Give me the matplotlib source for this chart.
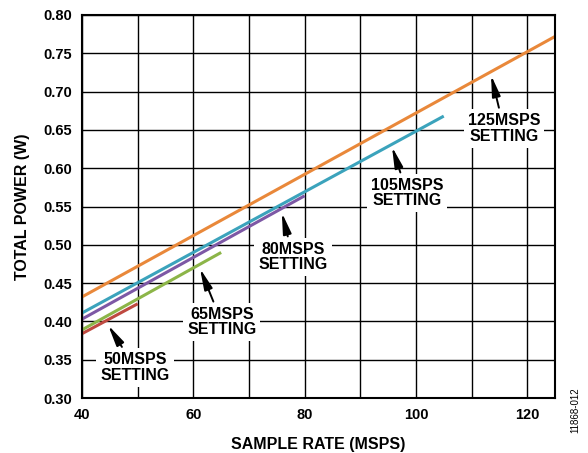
#!/usr/bin/python

# Total power vs sample rate for each speed setting

import numpy as np
import matplotlib
matplotlib.use("Agg")
import matplotlib.pyplot as plt

plt.rcParams['font.family'] = ['Liberation Sans', 'DejaVu Sans']

#################################
# data
#################################
settings = ["50MSPS", "65MSPS", "80MSPS", "105MSPS", "125MSPS"]
rate_start = [40, 40, 40, 40, 40]
rate_end = [50, 65, 80, 105, 125]
power_start = [0.384, 0.389, 0.403, 0.411, 0.432]
power_end = [0.423, 0.490, 0.564, 0.668, 0.772]
colours = ["#BF4A40", "#8CB548", "#7D58A5", "#3BA3BC", "#E9883A"]

# label position (text centre) and arrow tip, in data units
label_xy = [(49.5, 0.340), (65.1, 0.399), (77.9, 0.484), (98.4, 0.5675), (115.8, 0.652)]
arrow_tip = [(44.7, 0.395), (61.2, 0.469), (75.9, 0.542), (95.7, 0.628), (113.5, 0.7215)]

xticks = [40, 60, 80, 100, 120]
yticks = np.arange(0.30, 0.801, 0.05)

fsz_tick = 10.5
fsz_lab = 11.5

fig = plt.figure(figsize=(5.88, 4.53), dpi=100)
ax = fig.add_axes([0.1395, 0.1214, 0.8045, 0.8455])

# grid every 10 MSPS and every 0.05 W
for gx in range(40, 125, 10):
    ax.axvline(gx, color='black', lw=1.0, zorder=1)
for gy in yticks:
    ax.axhline(gy, color='black', lw=1.0, zorder=1)

for i in range(len(settings)):
    ax.plot([rate_start[i], rate_end[i]], [power_start[i], power_end[i]],
            color=colours[i], lw=2.2, solid_capstyle='butt', zorder=3)

for i in range(len(settings)):
    ax.annotate(settings[i] + "\nSETTING", xy=arrow_tip[i], xytext=label_xy[i],
                ha='center', va='center', fontsize=fsz_lab, fontweight='bold',
                linespacing=1.05,
                bbox=dict(boxstyle='square,pad=0.25', fc='white', ec='none'),
                arrowprops=dict(arrowstyle='-|>,head_length=1.1,head_width=0.22',
                                color='black', lw=1.4, shrinkA=1, shrinkB=0),
                zorder=4)

ax.set_xlim(40, 125)
ax.set_ylim(0.30, 0.80)
ax.set_xticks(xticks)
ax.set_yticks(yticks)
ax.set_yticklabels(["%.2f" % v for v in yticks])
ax.tick_params(length=0, labelsize=fsz_tick, pad=7)
for lab in ax.get_xticklabels() + ax.get_yticklabels():
    lab.set_fontweight('bold')
for sp in ax.spines.values():
    sp.set_linewidth(1.5)
    sp.set_zorder(5)

ax.set_xlabel("SAMPLE RATE (MSPS)", fontsize=fsz_lab, fontweight='bold', labelpad=11)
ax.set_ylabel("TOTAL POWER (W)", fontsize=fsz_lab, fontweight='bold', labelpad=10)

fig.text(0.978, 1 - 410 / 453, "11868-012", rotation=90, fontsize=7,
         ha='center', va='center')

fig.savefig("out.png", dpi=100)
